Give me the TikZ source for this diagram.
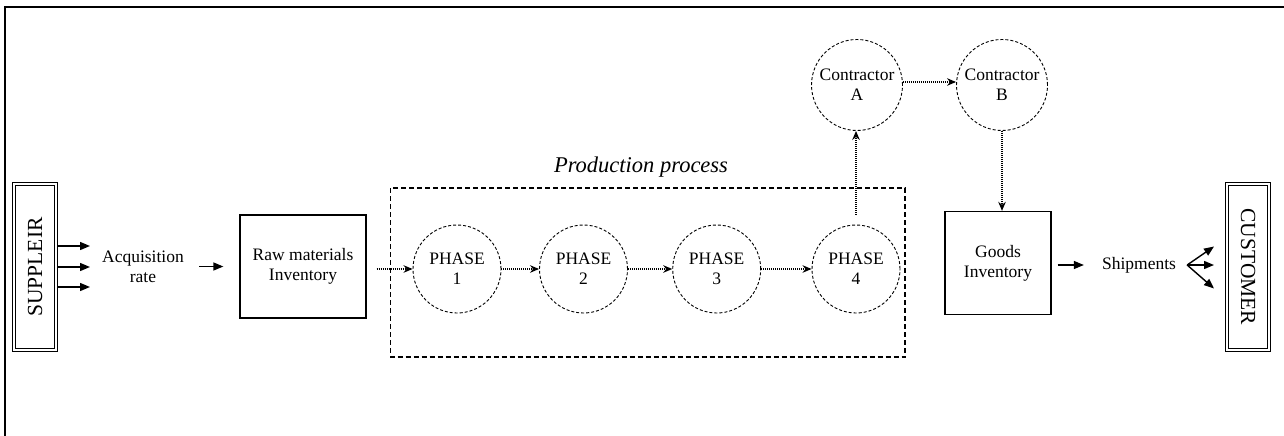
\documentclass[tikz,border=0pt]{standalone}
\usepackage{fontspec}
\setmainfont{Liberation Serif}
\usetikzlibrary{arrows.meta,calc}
\begin{document}
\begin{tikzpicture}[x=1pt,y=-1pt,
  txt/.style={font=\fontsize{17.5}{20}\selectfont, align=center, inner sep=0pt},
  stockbox/.style={draw, line width=1.3pt, minimum width=#1, minimum height=103pt, inner sep=0pt, txt},
  endbox/.style={draw, line width=1.1pt, double, double distance=2.2pt, minimum width=166pt, minimum height=42pt, inner sep=0pt, font=\fontsize{21.5}{24}\selectfont},
  phase/.style={circle, draw, line width=0.9pt, dash pattern=on 3pt off 2pt, minimum size=#1, inner sep=0pt, txt},
  arr/.style={line width=1.4pt, -{Triangle[length=10pt,width=8pt]}},
  dotarr/.style={line width=1.4pt, dash pattern=on 0.8pt off 1.2pt, -{Stealth[length=9pt,width=7.5pt]}},
]
\useasboundingbox (0,0) rectangle (1284,436);
% frame
\draw[line width=2pt] (5,436) -- (5,7.5) -- (1284,7.5);

% supplier and customer
\node[endbox, rotate=90] (sup) at (35,267) {SUPPLEIR};
\node[endbox, rotate=-90] (cus) at (1248,267) {CUSTOMER};

% acquisition
\node[txt] (acq) at (143,267) {Acquisition\\rate};
\coordinate (s1) at (58,246);
\coordinate (s2) at (58,267);
\coordinate (s3) at (58,287);
\coordinate (e1) at (90,246);
\coordinate (e2) at (90,267);
\coordinate (e3) at (90,287);
\draw[arr] (s1) -- (e1);
\draw[arr] (s2) -- (e2);
\draw[arr] (s3) -- (e3);

% raw materials
\node[stockbox=126pt] (raw) at (303,266.5) {Raw materials\\Inventory};
\draw[arr] ([xshift=15pt]acq.east |- raw.west) -- ([xshift=-16pt]raw.west);

% production process
\draw[line width=1.3pt, dash pattern=on 5pt off 3pt] (390.5,188) rectangle (905,357);
\node[txt, font=\fontsize{22.5}{24}\selectfont\itshape] (pp) at (641,167) {Production process};

\node[phase=88pt] (p1) at (457,269) {PHASE\\1};
\node[phase=88pt] (p2) at (583.5,269) {PHASE\\2};
\node[phase=88pt] (p3) at (716.7,269) {PHASE\\3};
\node[phase=88pt] (p4) at (856,269) {PHASE\\4};

\draw[dotarr] ([xshift=10pt]raw.east |- p1.west) -- (p1.west);
\draw[dotarr] (p1.east) -- (p2.west);
\draw[dotarr] (p2.east) -- (p3.west);
\draw[dotarr] (p3.east) -- (p4.west);

% contractors
\node[phase=91pt] (ca) at (857,85) {Contractor\\A};
\node[phase=91pt] (cb) at (1002,85) {Contractor\\B};
\draw[dotarr] ([yshift=10pt]p4.north) -- (p4.north |- ca.south);
\draw[dotarr] ([yshift=3pt]ca.east) -- ([yshift=3pt]cb.west);

% goods inventory
\node[stockbox=106pt] (gi) at (998,263) {Goods\\Inventory};
\draw[dotarr] (cb.south) -- (cb.south |- gi.north);

% shipments
\node[txt] (sh) at (1139,265) {Shipments};
\draw[arr] ([xshift=6pt]gi.east |- sh.west) -- ([xshift=-18pt]sh.west);
\coordinate (fan) at ([xshift=11pt]sh.east);
\coordinate (f1) at (1214,246.5);
\coordinate (f2) at (1214,265);
\coordinate (f3) at (1214,288.5);
\draw[arr] (fan) -- (f1);
\draw[arr] (fan) -- (f2);
\draw[arr] (fan) -- (f3);
\end{tikzpicture}
\end{document}
